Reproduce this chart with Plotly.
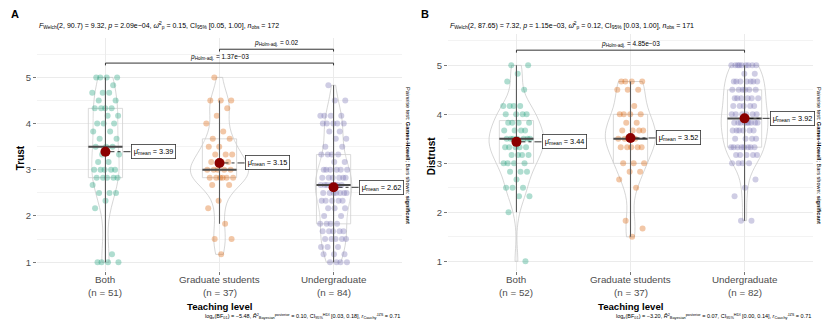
import numpy as np
import plotly.graph_objects as go

W, H = 830, 332
PAGE_PAD = 8  # default body margin of the written page

groups = ["Both", "Graduate students", "Undergraduate"]
group_colors = ["#1B9E77", "#D95F02", "#7570B3"]

# Trust scores: distinct values and how many respondents gave each
trust_both_vals = [5.0, 4.83, 4.67, 4.5, 4.33, 4.17, 4.0, 3.83, 3.67, 3.5, 3.33, 3.17, 3.0, 2.83, 2.67, 2.5, 2.33, 2.17, 1.17, 1.0]
trust_both_counts = [4, 1, 3, 2, 4, 2, 3, 2, 2, 3, 2, 2, 5, 5, 1, 3, 1, 1, 1, 4]
trust_grad_vals = [5.0, 4.5, 4.33, 4.17, 4.0, 3.83, 3.67, 3.5, 3.33, 3.17, 3.0, 2.83, 2.67, 2.33, 2.17, 1.83, 1.5, 1.17]
trust_grad_counts = [1, 3, 1, 1, 1, 1, 2, 2, 3, 3, 5, 6, 2, 1, 1, 1, 2, 1]
trust_under_vals = [4.83, 4.5, 4.17, 4.0, 3.83, 3.67, 3.5, 3.33, 3.17, 3.0, 2.83, 2.67, 2.5, 2.33, 2.17, 2.0, 1.83, 1.67, 1.5, 1.33, 1.17, 1.0]
trust_under_counts = [1, 2, 4, 5, 2, 2, 2, 4, 2, 6, 6, 7, 7, 5, 3, 2, 4, 5, 5, 3, 3, 4]

# Distrust scores
distrust_both_vals = [5.0, 4.83, 4.67, 4.5, 4.17, 4.0, 3.83, 3.67, 3.5, 3.33, 3.17, 3.0, 2.83, 2.67, 2.5, 2.33, 2.0, 1.0]
distrust_both_counts = [2, 1, 1, 1, 4, 4, 4, 4, 7, 5, 4, 4, 3, 1, 3, 2, 1, 1]
distrust_grad_vals = [4.67, 4.5, 4.17, 4.0, 3.83, 3.67, 3.5, 3.33, 3.0, 2.83, 2.67, 2.5, 1.83, 1.67, 1.5]
distrust_grad_counts = [4, 3, 1, 4, 2, 4, 4, 5, 3, 2, 1, 1, 1, 1, 1]
distrust_under_vals = [5.0, 4.83, 4.67, 4.5, 4.33, 4.17, 4.0, 3.83, 3.67, 3.5, 3.33, 3.17, 3.0, 2.67, 2.5, 2.33, 1.83]
distrust_under_counts = [9, 2, 7, 6, 6, 5, 6, 9, 6, 4, 8, 5, 4, 1, 1, 1, 2]

# printed statistics
subtitles = [
    "<i>F</i><sub>Welch</sub>(2, 90.7) = 9.32, <i>p</i> = 2.09e\u221204, "
    "<i>\u03c9\u0302</i><sup>2</sup><sub>p</sub> = 0.15, CI<sub>95%</sub> [0.05, 1.00], <i>n</i><sub>obs</sub> = 172",
    "<i>F</i><sub>Welch</sub>(2, 87.65) = 7.32, <i>p</i> = 1.15e\u221203, "
    "<i>\u03c9\u0302</i><sup>2</sup><sub>p</sub> = 0.12, CI<sub>95%</sub> [0.03, 1.00], <i>n</i><sub>obs</sub> = 171",
]
captions = [
    "log<sub>e</sub>(BF<sub>01</sub>) = \u22125.48, <i>R\u0302</i><sup>2</sup><sub>Bayesian</sub><sup>posterior</sup> = 0.10, "
    "CI<sub>95%</sub><sup>HDI</sup> [0.03, 0.18], <i>r</i><sub>Cauchy</sub><sup>JZS</sup> = 0.71",
    "log<sub>e</sub>(BF<sub>01</sub>) = \u22123.20, <i>R\u0302</i><sup>2</sup><sub>Bayesian</sub><sup>posterior</sup> = 0.07, "
    "CI<sub>95%</sub><sup>HDI</sup> [0.00, 0.14], <i>r</i><sub>Cauchy</sub><sup>JZS</sup> = 0.71",
]
# pairwise comparisons shown: (group a, group b, label)
pairs_trust = [(2, 3, "0.02"), (1, 3, "1.37e\u221203")]
pairs_distrust = [(1, 3, "4.85e\u221203")]

FONT = "Liberation Sans, Arial, sans-serif"
GREY = "#4D4D4D"
FW, FH = W - 2 * PAGE_PAD, H - 2 * PAGE_PAD


def px_x(x):
    return (x - PAGE_PAD) / FW


def px_y(y):
    return 1 - (y - PAGE_PAD) / FH


def bw_nrd0(x):
    sd = np.std(x, ddof=1)
    q75, q25 = np.percentile(x, [75, 25])
    return 0.9 * min(sd, (q75 - q25) / 1.34) * len(x) ** -0.2


def jitter(n, spread=0.12):
    k = np.arange(n)
    return ((k * 0.6180339887 + 0.31) % 1.0 - 0.5) * 2 * spread


panels = [
    dict(name="A", ylabel="Trust", xa="x", ya="y",
         xdom=(37, 402), ydom=(38, 270.5), yrange=(0.82, 5.853),
         data=[(trust_both_vals, trust_both_counts), (trust_grad_vals, trust_grad_counts),
               (trust_under_vals, trust_under_counts)],
         violin_w=[0.24, 0.51, 0.32],
         pairs=pairs_trust, bracket_y=[5.61, 5.31],
         subtitle=subtitles[0], caption=captions[0], label_x=15, ytitle_x=20),
    dict(name="B", ylabel="Distrust", xa="x2", ya="y2",
         xdom=(448, 813), ydom=(34, 270.5), yrange=(0.813, 5.64),
         data=[(distrust_both_vals, distrust_both_counts), (distrust_grad_vals, distrust_grad_counts),
               (distrust_under_vals, distrust_under_counts)],
         violin_w=[0.48, 0.44, 0.41],
         pairs=pairs_distrust, bracket_y=[5.31],
         subtitle=subtitles[1], caption=captions[1], label_x=425, ytitle_x=431),
]

fig = go.Figure()
annotations = []
layout_axes = {}

for i, p in enumerate(panels):
    xa, ya = p["xa"], p["ya"]
    samples = [np.repeat(v, c) for v, c in p["data"]]

    for gi, vals in enumerate(samples):
        pos = gi + 1
        col = group_colors[gi]
        q1, med, q3 = np.percentile(vals, [25, 50, 75])
        iqr = q3 - q1
        lo = vals[vals >= q1 - 1.5 * iqr].min()
        hi = vals[vals <= q3 + 1.5 * iqr].max()
        mean = vals.mean()

        fig.add_trace(go.Violin(
            x0=pos, y=vals, xaxis=xa, yaxis=ya, width=p["violin_w"][gi], spanmode="hard",
            bandwidth=bw_nrd0(vals), scalemode="width",
            points=False, line=dict(color="#C4C4C4", width=0.7),
            fillcolor="rgba(255,255,255,0.2)", hoverinfo="skip", showlegend=False))
        fig.add_trace(go.Box(
            x=[pos], q1=[q1], median=[med], q3=[q3], lowerfence=[lo], upperfence=[hi],
            xaxis=xa, yaxis=ya, width=0.3, whiskerwidth=0,
            line=dict(color="#D0D0D0", width=0.8), fillcolor="rgba(255,255,255,0.2)",
            hoverinfo="skip", showlegend=False))

        fig.add_trace(go.Scatter(
            x=pos + jitter(len(vals)), y=vals, xaxis=xa, yaxis=ya, mode="markers",
            marker=dict(size=6, color=col, opacity=0.35, line=dict(width=0)),
            hoverinfo="skip", showlegend=False))
        fig.add_trace(go.Scatter(
            x=[pos, pos], y=[lo, hi], xaxis=xa, yaxis=ya, mode="lines",
            line=dict(color="#5A5A5A", width=1.1), hoverinfo="skip", showlegend=False))
        fig.add_trace(go.Scatter(
            x=[pos - 0.15, pos + 0.15], y=[med, med], xaxis=xa, yaxis=ya, mode="lines",
            line=dict(color="#4A4A4A", width=2), hoverinfo="skip", showlegend=False))
        fig.add_trace(go.Scatter(
            x=[pos, pos + 0.22], y=[mean, mean], xaxis=xa, yaxis=ya, mode="lines",
            line=dict(color="black", width=0.8, dash="dashdot"), hoverinfo="skip", showlegend=False))
        fig.add_trace(go.Scatter(
            x=[pos], y=[mean], xaxis=xa, yaxis=ya, mode="markers",
            marker=dict(size=10, color="#8B0000"), hoverinfo="skip", showlegend=False))
        annotations.append(dict(
            x=pos + 0.22, y=mean, xref=xa, yref=ya, xanchor="left", yanchor="middle",
            text=f"\u03bc\u0302<sub>mean</sub> = {mean:.2f}", showarrow=False,
            font=dict(size=7.3, color="black", family=FONT),
            bordercolor="#333333", borderwidth=0.8, borderpad=2, bgcolor="white"))

        # category label with sample size under the axis
        for text, ypx in ((groups[gi], 279), (f"(n = {len(vals)})", 292)):
            annotations.append(dict(
                x=pos, y=px_y(ypx), xref=xa, yref="paper", xanchor="center", yanchor="middle",
                text=text, showarrow=False, font=dict(size=9.8, color=GREY, family=FONT)))

    # significance brackets
    tip = 0.05
    for (a, b, lab), by in zip(p["pairs"], p["bracket_y"]):
        fig.add_trace(go.Scatter(
            x=[a, a, b, b], y=[by - tip, by, by, by - tip], xaxis=xa, yaxis=ya, mode="lines",
            line=dict(color="#333333", width=1), hoverinfo="skip", showlegend=False))
        annotations.append(dict(
            x=(a + b) / 2, y=by, xref=xa, yref=ya, xanchor="center", yanchor="bottom", yshift=0,
            text=f"<i>p</i><sub>Holm-adj.</sub> = {lab}", showarrow=False,
            font=dict(size=6.5, color="black", family=FONT)))

    x0, x1 = p["xdom"]
    y0, y1 = p["ydom"]
    axis_suffix = "" if i == 0 else str(i + 1)
    layout_axes["xaxis" + axis_suffix] = dict(
        domain=[px_x(x0), px_x(x1)], anchor=ya, range=[0.4, 3.6],
        tickvals=[1, 2, 3], showticklabels=False, showgrid=True, gridcolor="#EBEBEB",
        zeroline=False, ticks="outside", ticklen=3, tickcolor="#777777", showline=False)
    layout_axes["yaxis" + axis_suffix] = dict(
        domain=[px_y(y1), px_y(y0)], anchor=xa, range=list(p["yrange"]),
        tick0=1, dtick=1, showgrid=True, gridcolor="#EBEBEB", zeroline=False,
        ticks="outside", ticklen=3, tickcolor="#777777",
        tickfont=dict(size=9.5, color=GREY, family=FONT), showline=False,
        minor=dict(dtick=0.5, tick0=1, showgrid=True, gridcolor="#F3F3F3", ticks=""))

    cx = px_x((x0 + x1) / 2)
    annotations += [
        dict(x=px_x(p["label_x"]), y=px_y(14), xref="paper", yref="paper", text=f"<b>{p['name']}</b>",
             showarrow=False, xanchor="center", yanchor="middle", font=dict(size=11, color="black", family=FONT)),
        dict(x=px_x(x0), y=px_y(26), xref="paper", yref="paper", text=p["subtitle"],
             showarrow=False, xanchor="left", yanchor="middle", font=dict(size=7, color="black", family=FONT)),
        dict(x=cx, y=px_y(306), xref="paper", yref="paper", text="<b>Teaching level</b>",
             showarrow=False, xanchor="center", yanchor="middle", font=dict(size=9.6, color="black", family=FONT)),
        dict(x=px_x(x1), y=px_y(316.5), xref="paper", yref="paper", text=p["caption"],
             showarrow=False, xanchor="right", yanchor="middle", font=dict(size=5.5, color="black", family=FONT)),
        dict(x=px_x(p["ytitle_x"]), y=px_y((y0 + y1) / 2 + 4), xref="paper", yref="paper",
             text=f"<b>{p['ylabel']}</b>", textangle=-90,
             showarrow=False, xanchor="center", yanchor="middle", font=dict(size=10, color="black", family=FONT)),
        dict(x=px_x(x1 + 6), y=px_y(155), xref="paper", yref="paper",
             text="Pairwise test: <b>Games-Howell</b>; Bars shown: <b>significant</b>", textangle=90,
             showarrow=False, xanchor="center", yanchor="middle", font=dict(size=5.6, color="black", family=FONT)),
    ]

fig.update_layout(
    width=FW, height=FH, margin=dict(l=0, r=0, t=0, b=0),
    paper_bgcolor="white", plot_bgcolor="white",
    violinmode="overlay", boxmode="overlay", showlegend=False,
    annotations=annotations, font=dict(family=FONT), **layout_axes)

fig.write_html("out.html")
